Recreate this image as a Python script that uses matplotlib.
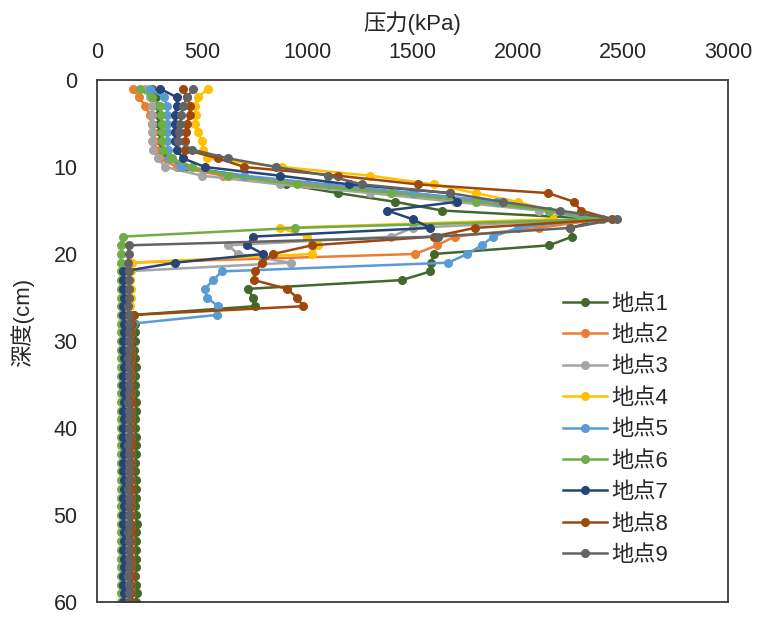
import matplotlib
matplotlib.use("Agg")
import matplotlib.pyplot as plt
import numpy as np

plt.rcParams['font.family'] = ['Liberation Sans', 'Noto Sans CJK JP', 'DejaVu Sans']

depth = list(range(1, 61))

s1 = [260,280,290,290,295,300,300,305,330,420,700,900,1146,1417,1640,2400,2250,2260,2150,1600,1590,1585,1450,720,740,750,175,
      180,182,180,178,182,185,183,180,182,184,186,183,181,184,186,185,183,182,185,187,184,183,186,188,185,184,186,187,185,183,186,188,186]
s2 = [170,200,230,250,260,265,270,280,300,380,600,1000,1500,1900,2150,2400,2100,1700,1617,1512,150,
      140,138,142,140,139,141,143,140,138,141,142,140,139,141,143,142,140,139,141,142,144,141,140,142,143,141,140,142,144,143,141,140,142,143,141,142,144,142,141]
s3 = [230,250,262,262,262,262,262,265,290,323,500,870,1300,1700,2100,2350,1500,1400,623,670,920,130,
      130,128,131,130,129,132,130,131,129,130,132,131,130,129,131,132,130,131,133,130,131,132,130,129,131,133,132,130,131,132,130,131,133,132,130,131,132,131]
s4 = [528,480,466,470,466,480,500,505,523,880,1300,1600,1800,2000,2150,2170,870,1000,1050,1022,166,
      160,158,161,160,159,162,160,161,159,160,162,161,160,159,161,162,160,161,163,160,161,162,160,159,161,163,162,160,161,162,160,161,163,162,160,161,162,161,160]
s5 = [252,320,333,333,335,335,335,338,340,400,700,1100,1500,1900,2150,2350,2000,1883,1830,1760,1670,594,552,513,523,575,570,
      171,150,148,150,149,151,150,148,150,151,149,150,152,150,149,151,150,148,150,151,152,150,149,151,150,152,151,150,149,151,150,152,151]
s6 = [205,260,300,305,309,309,309,315,357,452,623,950,1400,1800,2150,2400,942,124,
      115,113,112,114,113,112,114,115,113,112,114,113,112,114,115,113,112,114,113,115,114,112,113,115,114,113,112,114,115,113,112,114,113,115,114,113,112,114,115,113,114,113]
s7 = [300,380,380,370,371,371,371,380,409,513,870,1200,1678,1712,1380,1500,1585,742,713,790,371,124,
      124,125,126,124,125,127,126,125,124,126,127,125,124,126,127,125,126,124,125,127,126,125,124,126,127,125,126,124,125,127,126,125,127,126,125,124,126,125]
s8 = [409,430,442,440,430,425,418,418,575,700,1146,1527,2145,2268,2300,2450,1797,1600,1022,837,785,751,746,903,951,980,171,
      165,163,162,164,163,165,164,162,163,165,164,163,162,164,165,163,164,162,163,165,164,163,162,164,165,163,164,162,163,165,164,163,165]
s9 = [456,430,410,400,395,390,385,452,623,850,1100,1260,1678,1930,2200,2470,2250,1620,150,
      150,148,150,152,151,150,149,151,152,150,151,150,149,151,152,150,151,149,150,152,151,150,149,151,152,150,151,149,150,152,151,150,149,151,152,150,151,149,150,152,151]

series = [s1, s2, s3, s4, s5, s6, s7, s8, s9]
labels = ['地点1', '地点2', '地点3', '地点4', '地点5', '地点6', '地点7', '地点8', '地点9']
colors = ['#43682B', '#ED7D31', '#A5A5A5', '#FFC000', '#5B9BD5',
          '#70AD47', '#264478', '#9E480E', '#636363']

xticks = [0, 500, 1000, 1500, 2000, 2500, 3000]
yticks = [0, 10, 20, 30, 40, 50, 60]

fig = plt.figure(figsize=(7.57, 6.17), dpi=100)
W, H = 757, 617
ax = fig.add_axes([97 / W, 1 - 602 / H, (728 - 97) / W, (602 - 80) / H])

for s, lab, c in zip(series, labels, colors):
    ax.plot(s, depth, color=c, lw=1.8, marker='o', ms=5.5, label=lab)

ax.set_xlim(0, 3000)
ax.set_ylim(60, 0)
ax.set_xticks(xticks)
ax.set_yticks(yticks)
ax.xaxis.tick_top()
ax.xaxis.set_label_position('top')
ax.tick_params(axis='both', length=0, labelsize=15.5, colors='#262626')
ax.tick_params(axis='x', pad=12)
ax.tick_params(axis='y', pad=14)
for sp in ax.spines.values():
    sp.set_color('#3a3a3a')
    sp.set_linewidth(1.3)

ax.set_xlabel('压力(kPa)', fontsize=16, color='#262626', labelpad=9)
ax.set_ylabel('深度(cm)', fontsize=16, color='#262626')
ax.yaxis.set_label_coords(-0.10, 0.535)

leg = ax.legend(loc='upper left', bbox_to_anchor=(547 / W, 1 - 278 / H),
                bbox_transform=fig.transFigure, frameon=False, fontsize=16,
                handlelength=2.0, handletextpad=0.2, labelspacing=0.47,
                borderpad=0.2)
for t in leg.get_texts():
    t.set_color('#262626')

fig.savefig('out.png', dpi=100)
